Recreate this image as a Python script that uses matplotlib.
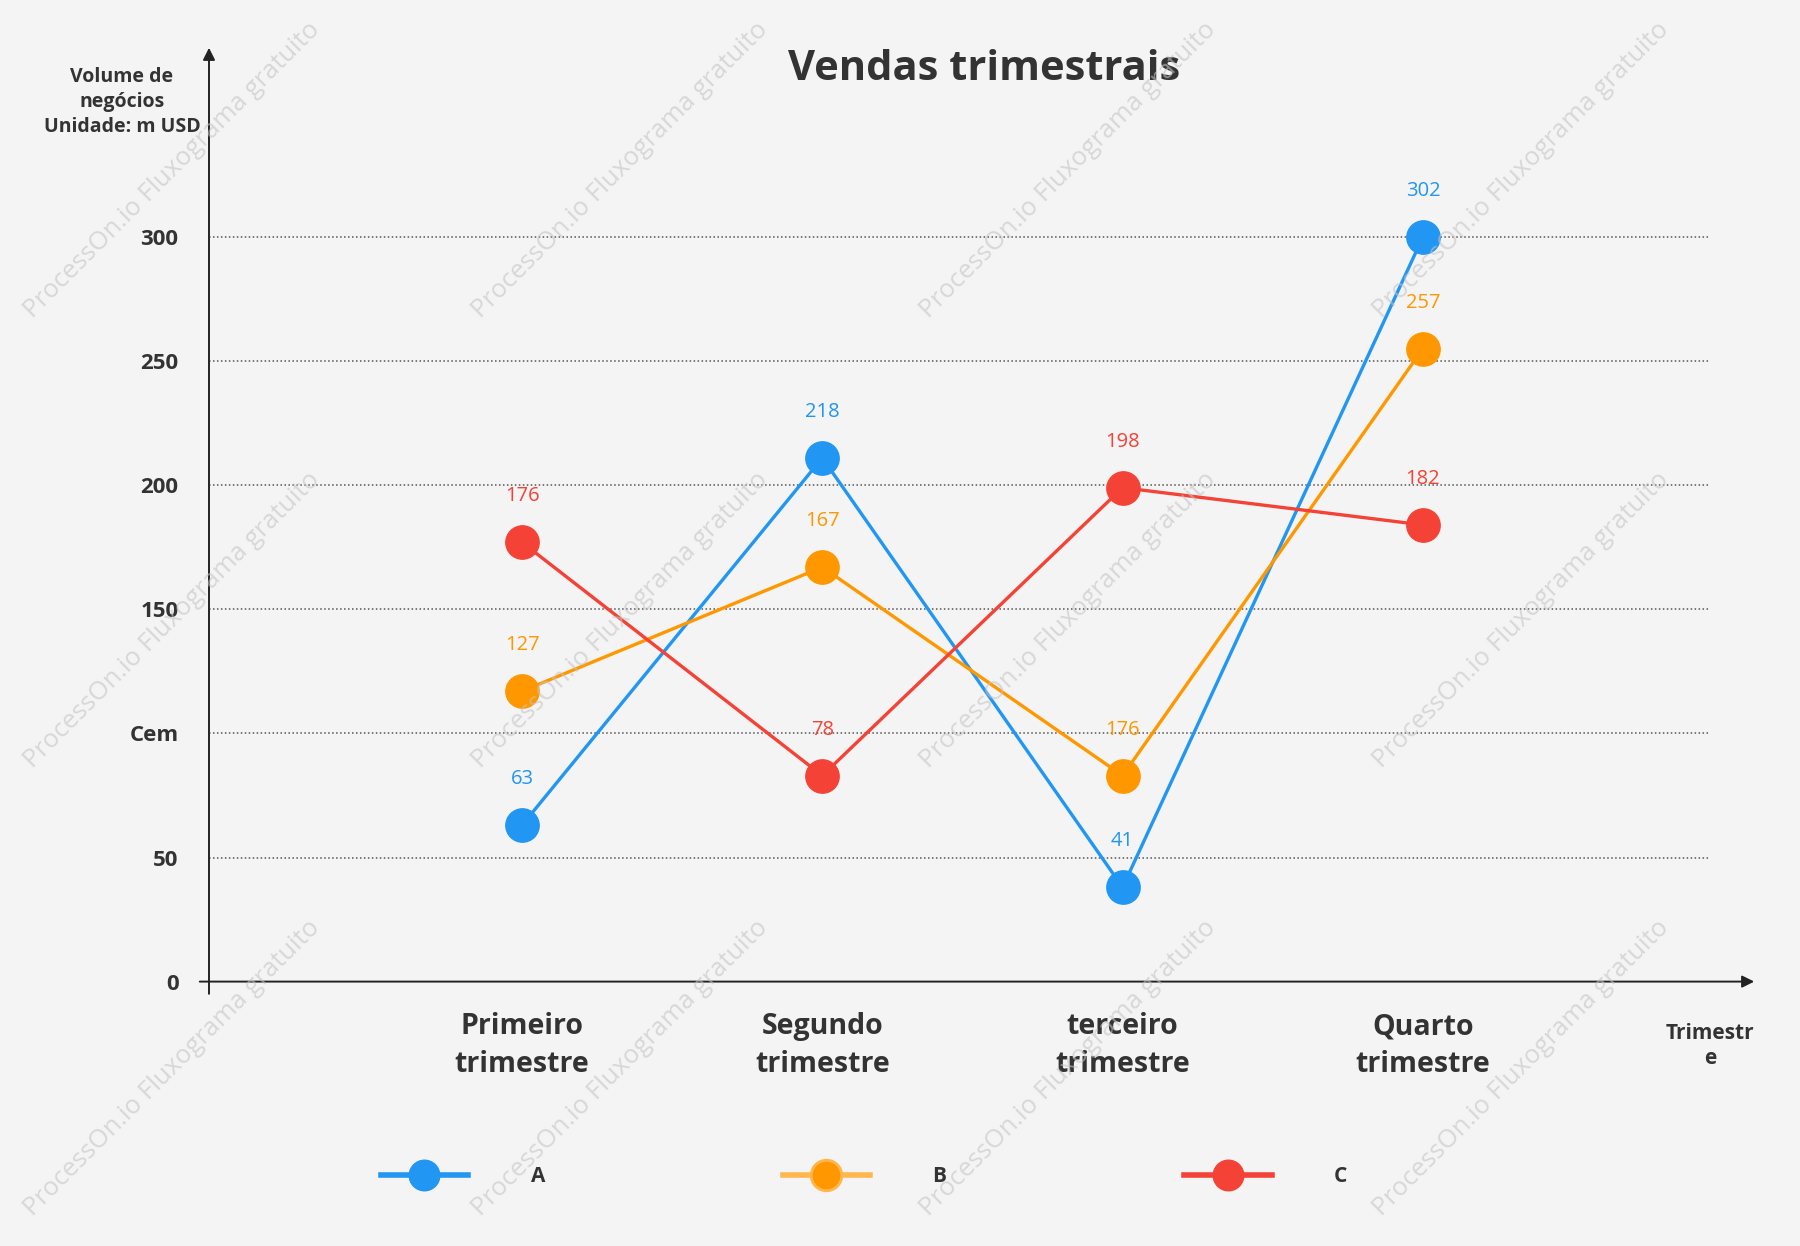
import matplotlib
matplotlib.use('Agg')
import matplotlib.pyplot as plt
from matplotlib.lines import Line2D

plt.rcParams['font.family'] = ['Open Sans', 'DejaVu Sans']

# dados
categorias = ['Primeiro\ntrimestre', 'Segundo\ntrimestre', 'terceiro\ntrimestre', 'Quarto\ntrimestre']
serie_a = [63, 211, 38, 300]
serie_b = [117, 167, 83, 255]
serie_c = [177, 83, 199, 184]
# rótulos escritos no gráfico original (não batem sempre com a posição)
rotulos_a = ['63', '218', '41', '302']
rotulos_b = ['127', '167', '176', '257']
rotulos_c = ['176', '78', '198', '182']
y_ticks = [0, 50, 100, 150, 200, 250, 300]
y_ticklabels = ['0', '50', 'Cem', '150', '200', '250', '300']

cores = {'A': '#2196F3', 'B': '#FF9800', 'C': '#F44336'}
bg = '#f4f4f4'
txt = '#333333'

W, H = 1800, 1246
fig = plt.figure(figsize=(W / 100, H / 100), dpi=100, facecolor=bg)

# eixo: x=0 em 522px, passo 300px ; y=0 em 982px, 2.482 px por unidade
x0_px, dx_px = 522, 300.3
y0_px, dy_px = 981.6, 2.482
left_px, right_px, top_px = 209, 1757, 45
xmin = (left_px - x0_px) / dx_px
xmax = (right_px - x0_px) / dx_px
ymax = (y0_px - top_px) / dy_px
ax = fig.add_axes([left_px / W, 1 - y0_px / H, (right_px - left_px) / W, (y0_px - top_px) / H])
ax.set_facecolor(bg)
ax.set_xlim(xmin, xmax)
ax.set_ylim(0, ymax)
for s in ax.spines.values():
    s.set_visible(False)

# grade pontilhada
grid_end = (1710 - x0_px) / dx_px
ax.hlines(y_ticks[1:], xmin, grid_end, colors='#555555', linestyles=(0, (1, 1.6)), lw=1.1, zorder=1)

# eixos com setas
ax.annotate('', xy=(xmax, 0), xytext=(xmin - 12 / dx_px, 0), annotation_clip=False,
            arrowprops=dict(arrowstyle='-|>', color='#222222', lw=1.4, mutation_scale=18))
ax.annotate('', xy=(xmin, ymax), xytext=(xmin, -15 / dy_px), annotation_clip=False,
            arrowprops=dict(arrowstyle='-|>', color='#222222', lw=1.4, mutation_scale=18))

x = list(range(len(categorias)))
for nome, vals, rots in [('A', serie_a, rotulos_a), ('B', serie_b, rotulos_b), ('C', serie_c, rotulos_c)]:
    ax.plot(x, vals, color=cores[nome], lw=2.4, marker='o', markersize=24, zorder=3, clip_on=False)
    for xi, v, r in zip(x, vals, rots):
        ax.annotate(r, (xi, v), xytext=(0, 33), textcoords='offset points', ha='center', va='center',
                    color=cores[nome], fontsize=14.5, zorder=4)

ax.set_yticks(y_ticks)
ax.set_yticklabels(y_ticklabels, fontsize=16, fontweight='bold', color=txt)
ax.set_xticks(x)
ax.set_xticklabels(categorias, fontsize=20.5, fontweight='bold', color=txt, linespacing=1.4)
ax.tick_params(axis='y', length=0, pad=22)
ax.tick_params(axis='x', length=0, pad=22)

fig.text(984 / W, 1 - 70 / H, 'Vendas trimestrais', ha='center', va='center',
         fontsize=30, fontweight='bold', color=txt)
fig.text(122 / W, 1 - 102 / H, 'Volume de\nnegócios\nUnidade: m USD', ha='center', va='center',
         fontsize=14, fontweight='bold', color=txt, linespacing=1.3)
fig.text(1710 / W, 1 - 1046 / H, 'Trimestr\ne', ha='center', va='center',
         fontsize=15, fontweight='bold', color=txt, linespacing=1.3)

# legenda
handles = [
    Line2D([], [], color=cores['A'], lw=4, marker='o', markersize=22, markerfacecolor=cores['A'], markeredgecolor=cores['A']),
    Line2D([], [], color='#FFB74D', lw=4, marker='o', markersize=22, markerfacecolor=cores['B'], markeredgecolor='#FFB74D', markeredgewidth=2),
    Line2D([], [], color=cores['C'], lw=4, marker='o', markersize=22, markerfacecolor=cores['C'], markeredgecolor=cores['C']),
]
leg = fig.legend(handles, ['A', 'B', 'C'], loc='center', bbox_to_anchor=(864 / W, 1 - 1177 / H), ncol=3,
                 frameon=False, fontsize=15, handlelength=4.2, handletextpad=3.0, columnspacing=11.4)
for t in leg.get_texts():
    t.set_fontweight('bold')
    t.set_color(txt)

# marca d'água
for cy in [170, 620, 1068]:
    for cx in [172, 620, 1068, 1521]:
        fig.text(cx / W, 1 - cy / H, 'ProcessOn.io Fluxograma gratuito', rotation=45, ha='center', va='center',
                 rotation_mode='anchor', fontsize=18.5, color='#c4c4c4', alpha=0.6, zorder=10)

fig.savefig('out.png', dpi=100, facecolor=bg)
